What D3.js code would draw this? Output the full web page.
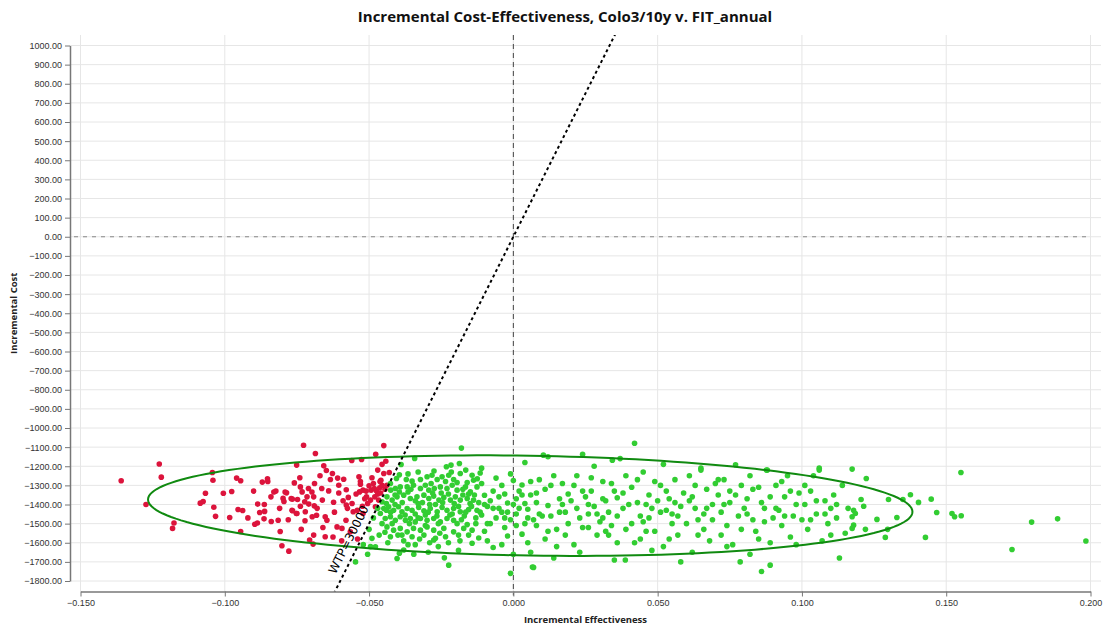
<!DOCTYPE html>
<html>
<head>
<meta charset="utf-8">
<script src="https://cdn.jsdelivr.net/npm/d3@7"></script>
<style>
  html, body { margin: 0; padding: 0; background: #fff; }
  svg { display: block; }
</style>
</head>
<body>
<svg id="chart" width="1110" height="630"></svg>
<script>
// ---------------- data ----------------
const chartTitle = "Incremental Cost-Effectiveness, Colo3/10y v. FIT_annual";
const xLabel = "Incremental Effectiveness";
const yLabel = "Incremental Cost";
const xTicks = [-0.15, -0.10, -0.05, 0.00, 0.05, 0.10, 0.15, 0.20];
const yTicks = [-1800,-1700,-1600,-1500,-1400,-1300,-1200,-1100,-1000,-900,-800,-700,-600,-500,-400,-300,-200,-100,0,100,200,300,400,500,600,700,800,900,1000];
const wtp = 30000;
const wtpLabel = "WTP=30000";
// confidence ellipse: centre and two conjugate semi-axis vectors (eff, cost)
const ellipseCenter = [0.00585, -1406];
const ellipseAxisA = [0.13245, -32];
const ellipseAxisB = [0, 261];

// simulations: [incremental effectiveness, incremental cost]
const sims = [
// left / red region
[-0.1359,-1276],[-0.1227,-1188],[-0.1220,-1257],[-0.1273,-1400],[-0.1176,-1497],[-0.1181,-1525],
[-0.1043,-1233],[-0.1041,-1273],[-0.1067,-1341],[-0.1085,-1393],[-0.1075,-1384],[-0.1038,-1414],
[-0.1032,-1462],[-0.1005,-1341],[-0.0976,-1332],[-0.0983,-1468],[-0.0959,-1262],[-0.0945,-1276],
[-0.0954,-1426],[-0.0938,-1431],[-0.0945,-1541],[-0.0886,-1398],[-0.0879,-1442],[-0.0896,-1503],
[-0.0887,-1497],[-0.0870,-1283],[-0.0863,-1400],[-0.0862,-1436],[-0.0864,-1475],[-0.0852,-1266],
[-0.0851,-1280],[-0.0839,-1489],[-0.0830,-1335],[-0.0823,-1330],[-0.0815,-1482],[-0.0808,-1541],
[-0.0802,-1616],[-0.0778,-1644],[-0.0798,-1368],[-0.0795,-1384],[-0.0786,-1339],[-0.0767,-1430],
[-0.0759,-1287],[-0.0766,-1372],[-0.0751,-1194],[-0.0750,-1447],[-0.0727,-1090],[-0.0686,-1133],
[-0.0657,-1198],[-0.0648,-1222],[-0.0627,-1238],[-0.0634,-1269],[-0.0609,-1262],[-0.0560,-1170],
[-0.0526,-1165],[-0.0477,-1137],[-0.0449,-1092],[-0.0442,-1174],[-0.0791,-1335],[-0.0770,-1369],
[-0.0738,-1308],[-0.0732,-1334],[-0.0710,-1316],[-0.0698,-1335],[-0.0748,-1374],[-0.0723,-1386],
[-0.0709,-1398],[-0.0664,-1316],[-0.0640,-1329],[-0.0662,-1377],[-0.0652,-1464],[-0.0623,-1388],
[-0.0605,-1299],[-0.0588,-1268],[-0.0579,-1323],[-0.0572,-1363],[-0.0579,-1403],[-0.0559,-1395],
[-0.0555,-1438],[-0.0535,-1255],[-0.0530,-1294],[-0.0521,-1325],[-0.0533,-1334],[-0.0509,-1360],
[-0.0500,-1302],[-0.0493,-1325],[-0.0482,-1316],[-0.0474,-1330],[-0.0463,-1313],[-0.0459,-1273],
[-0.0449,-1238],[-0.0430,-1233],[-0.0438,-1299],[-0.0467,-1377],[-0.0495,-1377],[-0.0478,-1412],
[-0.0523,-1409],[-0.0521,-1447],[-0.0541,-1430],[-0.0689,-1290],[-0.0692,-1360],[-0.0690,-1407],
[-0.0697,-1464],[-0.0721,-1438],[-0.0752,-1447],[-0.0738,-1409],[-0.0765,-1433],[-0.0722,-1485],
[-0.0682,-1456],[-0.0646,-1482],[-0.0652,-1569],[-0.0611,-1517],[-0.0594,-1525],[-0.0580,-1482],
[-0.0565,-1543],[-0.0692,-1560],[-0.0706,-1586],[-0.0694,-1607],[-0.0455,-1300],[-0.0470,-1345],
[-0.0485,-1290],[-0.0510,-1330],[-0.0462,-1280],[-0.0445,-1320],
[-0.046,-1340],[-0.048,-1360],[-0.0505,-1395],[-0.0515,-1370],[-0.049,-1260],[-0.047,-1220],
[-0.0455,-1190],[-0.053,-1280],[-0.0545,-1345],[-0.0575,-1420],[-0.059,-1380],[-0.062,-1440],
[-0.0605,-1340],[-0.067,-1250],[-0.068,-1420],[-0.0715,-1360],[-0.074,-1260],[-0.078,-1480],
[-0.081,-1420],[-0.084,-1360],[-0.090,-1330],[-0.092,-1470],[-0.0735,-1530],[-0.066,-1520],
[-0.0595,-1590],[-0.0625,-1570],
// dense centre
[-0.0180,-1105],[-0.0342,-1159],[-0.0389,-1191],[-0.0232,-1203],[-0.0216,-1194],[-0.0187,-1186],
[-0.0405,-1264],[-0.0371,-1269],[-0.0351,-1278],[-0.0322,-1269],[-0.0299,-1255],[-0.0282,-1247],
[-0.0264,-1269],[-0.0247,-1255],[-0.0224,-1247],[-0.0207,-1269],[-0.0184,-1238],[-0.0143,-1247],
[-0.0138,-1273],[-0.0426,-1290],[-0.0409,-1316],[-0.0392,-1308],[-0.0368,-1308],[-0.0346,-1299],
[-0.0322,-1316],[-0.0305,-1299],[-0.0293,-1325],[-0.0274,-1316],[-0.0253,-1308],[-0.0230,-1316],
[-0.0212,-1299],[-0.0195,-1325],[-0.0166,-1308],[-0.0149,-1334],[-0.0126,-1308],[-0.0438,-1360],
[-0.0420,-1377],[-0.0403,-1360],[-0.0380,-1351],[-0.0357,-1369],[-0.0334,-1360],[-0.0310,-1351],
[-0.0293,-1369],[-0.0276,-1356],[-0.0258,-1377],[-0.0241,-1363],[-0.0218,-1377],[-0.0201,-1360],
[-0.0184,-1377],[-0.0160,-1369],[-0.0138,-1377],[-0.0455,-1386],[-0.0449,-1421],[-0.0432,-1412],
[-0.0415,-1430],[-0.0398,-1412],[-0.0386,-1438],[-0.0368,-1421],[-0.0351,-1430],[-0.0328,-1415],
[-0.0310,-1433],[-0.0288,-1421],[-0.0264,-1438],[-0.0247,-1415],[-0.0230,-1430],[-0.0207,-1421],
[-0.0184,-1438],[-0.0155,-1426],[-0.0126,-1430],[-0.0461,-1447],[-0.0444,-1473],[-0.0426,-1464],
[-0.0409,-1482],[-0.0392,-1464],[-0.0374,-1482],[-0.0357,-1473],[-0.0340,-1491],[-0.0322,-1473],
[-0.0299,-1482],[-0.0276,-1473],[-0.0253,-1491],[-0.0230,-1473],[-0.0207,-1482],[-0.0172,-1525],
[-0.0143,-1534],[-0.0438,-1517],[-0.0415,-1534],[-0.0392,-1525],[-0.0368,-1543],[-0.0346,-1525],
[-0.0322,-1534],[-0.0299,-1517],[-0.0276,-1534],[-0.0241,-1525],[-0.0207,-1543],[-0.0426,-1569],
[-0.0386,-1560],[-0.0351,-1569],[-0.0310,-1560],[-0.0270,-1577],[-0.0235,-1569],[-0.0490,-1577],
[-0.0478,-1621],[-0.0380,-1638],[-0.0276,-1586],[-0.0403,-1682],[-0.0547,-1700],[-0.0239,-1679],
[-0.0224,-1717],[-0.0143,-1603],[-0.0170,-1460],[-0.0195,-1500],[-0.0160,-1285],[-0.0330,-1395],
[-0.0270,-1400],[-0.0212,-1450],[-0.0365,-1335],[-0.0250,-1340],[-0.0340,-1450],[-0.0285,-1290],
[-0.0175,-1350],[-0.0420,-1500],[-0.0305,-1510],[-0.0380,-1590],[-0.0260,-1620],[-0.0340,-1610],
[-0.0445,-1545],[-0.0190,-1560],[-0.0130,-1470],[-0.0150,-1395],[-0.0410,-1400],[-0.0295,-1440],
[-0.044,-1395],[-0.0425,-1440],[-0.041,-1350],[-0.0395,-1335],[-0.0385,-1390],[-0.0375,-1455],
[-0.036,-1500],[-0.0355,-1320],[-0.034,-1380],[-0.033,-1470],[-0.0315,-1390],[-0.0305,-1455],
[-0.029,-1400],[-0.028,-1340],[-0.0265,-1460],[-0.026,-1500],[-0.0245,-1390],[-0.0235,-1280],
[-0.0225,-1345],[-0.022,-1455],[-0.0205,-1395],[-0.0195,-1285],[-0.019,-1410],[-0.018,-1480],
[-0.0175,-1320],[-0.0165,-1440],[-0.016,-1505],[-0.0155,-1345],[-0.0145,-1410],[-0.0135,-1350],
[-0.013,-1500],[-0.0125,-1265],[-0.012,-1390],[-0.0115,-1440],[-0.0425,-1325],[-0.0395,-1245],
[-0.0365,-1240],[-0.033,-1230],[-0.0275,-1225],[-0.0215,-1230],[-0.0165,-1220],[-0.0115,-1235],
[-0.0435,-1600],[-0.040,-1560],[-0.0365,-1610],[-0.0325,-1580],[-0.029,-1600],[-0.0255,-1550],
[-0.0225,-1600],[-0.0185,-1590],[-0.0155,-1560],[-0.012,-1575],[-0.0395,-1655],[-0.0345,-1660],
[-0.0295,-1650],[-0.019,-1640],[-0.0455,-1500],[-0.0440,-1430],[-0.047,-1420],[-0.0485,-1470],
[-0.050,-1530],[-0.0465,-1560],[-0.0495,-1620],[-0.052,-1610],[-0.054,-1580],[-0.0505,-1660],
// right part
[-0.011,-1290],[-0.010,-1352],[-0.009,-1410],[-0.011,-1455],[-0.008,-1500],[-0.010,-1540],[-0.007,-1330],
[-0.006,-1262],[-0.009,-1590],[-0.006,-1470],[-0.008,-1380],[-0.005,-1420],[-0.011,-1210],[-0.007,-1625],
[-0.004,-1300],[-0.003,-1345],[-0.002,-1392],[-0.004,-1440],[-0.001,-1480],[-0.003,-1520],[0.000,-1275],
[0.001,-1370],[-0.002,-1565],[0.001,-1450],[-0.004,-1610],[0.002,-1330],[-0.001,-1240],[0.000,-1660],
[-0.001,-1760],[0.003,-1298],[0.004,-1395],[0.005,-1425],[0.006,-1350],[0.007,-1480],[0.008,-1510],
[0.003,-1555],[0.009,-1270],[0.005,-1600],[0.007,-1729],[0.008,-1390],[0.004,-1180],[0.009,-1450],
[0.006,-1650],[0.011,-1320],[0.012,-1405],[0.013,-1460],[0.014,-1250],[0.015,-1530],[0.016,-1370],
[0.017,-1290],[0.018,-1440],[0.011,-1580],[0.019,-1500],[0.012,-1150],[0.015,-1620],[0.017,-1400],
[0.019,-1345],[0.014,-1680],[0.021,-1300],[0.022,-1420],[0.023,-1470],[0.024,-1137],[0.025,-1360],
[0.026,-1520],[0.027,-1260],[0.028,-1410],[0.029,-1560],[0.021,-1610],[0.024,-1330],[0.026,-1450],
[0.028,-1200],[0.030,-1490],[0.023,-1650],[0.031,-1280],[0.032,-1380],[0.033,-1440],[0.034,-1510],
[0.035,-1330],[0.036,-1600],[0.037,-1160],[0.038,-1420],[0.039,-1250],[0.031,-1470],[0.033,-1560],
[0.036,-1365],[0.039,-1530],[0.035,-1690],[0.042,-1080],[0.041,-1310],[0.043,-1390],[0.044,-1460],
[0.045,-1230],[0.046,-1540],[0.047,-1350],[0.048,-1420],[0.049,-1280],[0.042,-1600],[0.045,-1490],
[0.048,-1640],[0.050,-1380],[0.051,-1300],[0.052,-1190],[0.053,-1430],[0.054,-1370],[0.055,-1500],
[0.056,-1270],[0.057,-1560],[0.058,-1410],[0.059,-1340],[0.052,-1620],[0.055,-1450],[0.058,-1700],
[0.061,-1250],[0.062,-1360],[0.063,-1420],[0.064,-1480],[0.065,-1210],[0.066,-1530],[0.067,-1320],
[0.068,-1590],[0.069,-1400],[0.062,-1650],[0.066,-1450],[0.070,-1290],[0.071,-1350],[0.072,-1440],
[0.073,-1270],[0.074,-1510],[0.075,-1390],[0.076,-1610],[0.077,-1192],[0.078,-1460],[0.079,-1300],
[0.072,-1560],[0.075,-1330],[0.080,-1420],[0.081,-1370],[0.082,-1250],[0.083,-1480],[0.084,-1540],
[0.085,-1310],[0.086,-1750],[0.087,-1420],[0.088,-1220],[0.089,-1600],[0.082,-1660],[0.086,-1390],
[0.090,-1470],[0.091,-1300],[0.092,-1430],[0.093,-1510],[0.094,-1360],[0.095,-1250],[0.096,-1570],
[0.097,-1460],[0.098,-1610],[0.099,-1340],[0.093,-1280],[0.100,-1480],[0.101,-1400],[0.102,-1530],
[0.103,-1330],[0.104,-1250],[0.105,-1450],[0.106,-1220],[0.107,-1590],[0.108,-1380],[0.109,-1500],
[0.110,-1420],[0.111,-1350],[0.112,-1470],[0.113,-1680],[0.114,-1300],[0.115,-1550],[0.116,-1420],
[0.0104,-1142],[0.0343,-1168],[0.065,-1220],[0.0877,-1220],[0.106,-1210],[0.0388,-1690],[0.0786,-1700],
[0.089,-1717],[0.0066,-1727],
[0.002,-1420],[0.004,-1500],[0.006,-1280],[0.008,-1340],[0.010,-1460],[0.012,-1540],[0.013,-1300],
[0.016,-1440],[0.018,-1560],[0.020,-1380],[0.022,-1250],[0.024,-1520],[0.026,-1400],[0.027,-1330],
[0.029,-1450],[0.031,-1370],[0.032,-1540],[0.034,-1290],[0.036,-1460],[0.038,-1340],[0.040,-1400],
[0.041,-1500],[0.043,-1270],[0.044,-1580],[0.046,-1400],[0.047,-1470],[0.049,-1540],[0.051,-1440],
[0.053,-1330],[0.054,-1580],[0.056,-1390],[0.057,-1460],[0.060,-1500],[0.061,-1380],[0.063,-1300],
[0.064,-1560],[0.067,-1420],[0.069,-1480],[0.071,-1270],[0.073,-1400],[0.074,-1620],[0.077,-1350],
[0.079,-1530],[0.081,-1450],[0.083,-1320],[0.085,-1580],[0.087,-1490],[0.089,-1360],[0.091,-1420],
[0.094,-1460],[0.096,-1330],[0.098,-1400],[0.101,-1300],[0.103,-1480],[0.105,-1380],[0.108,-1450],
[0.110,-1560],[0.112,-1400],[-0.005,-1360],[-0.002,-1440],[0.001,-1510],[-0.007,-1420],[-0.009,-1500],
[-0.010,-1400],[0.003,-1350],[0.000,-1400],[-0.003,-1470],[0.005,-1470],
// far right
[0.1174,-1215],[0.1223,-1264],[0.1205,-1374],[0.1214,-1409],[0.1179,-1430],[0.1185,-1447],[0.1174,-1464],
[0.1179,-1508],[0.1174,-1525],[0.1220,-1530],[0.1260,-1478],[0.1289,-1572],[0.1297,-1530],[0.1300,-1374],
[0.1329,-1468],[0.1350,-1374],[0.1376,-1349],[0.1404,-1389],[0.1428,-1572],[0.1448,-1372],[0.1467,-1442],
[0.1520,-1447],[0.1529,-1464],[0.1552,-1459],[0.1551,-1233],[0.1728,-1635],[0.1796,-1492],[0.1886,-1475],
[0.1984,-1591]
];

// ---------------- layout ----------------
const svg = d3.select("#chart");
const plot = { left: 70, right: 1101, top: 35, bottom: 591.5 };
const pad = 10.5;

const x = d3.scaleLinear().domain([-0.15, 0.20]).range([plot.left + pad, plot.right - pad]);
const y = d3.scaleLinear().domain([-1800, 1000]).range([plot.bottom - pad, plot.top + pad]);

svg.append("defs").append("clipPath").attr("id", "clip")
  .append("rect").attr("x", plot.left).attr("y", plot.top)
  .attr("width", plot.right - plot.left).attr("height", plot.bottom - plot.top);

// grid
const grid = svg.append("g");
grid.selectAll("line.h").data(yTicks).join("line")
  .attr("x1", plot.left).attr("x2", plot.right)
  .attr("y1", d => y(d)).attr("y2", d => y(d))
  .attr("stroke", "#e6e6e6").attr("stroke-width", 1);
grid.selectAll("line.v").data(xTicks).join("line")
  .attr("y1", plot.top).attr("y2", plot.bottom)
  .attr("x1", d => x(d)).attr("x2", d => x(d))
  .attr("stroke", "#e6e6e6").attr("stroke-width", 1);

// zero reference lines
svg.append("line")
  .attr("x1", plot.left + 4).attr("x2", x(0.20))
  .attr("y1", y(0)).attr("y2", y(0))
  .attr("stroke", "#888").attr("stroke-width", 1).attr("stroke-dasharray", "4,5");
svg.append("line")
  .attr("x1", x(0)).attr("x2", x(0))
  .attr("y1", plot.top).attr("y2", plot.bottom + 4)
  .attr("stroke", "#444").attr("stroke-width", 1).attr("stroke-dasharray", "5,4");

const clipped = svg.append("g").attr("clip-path", "url(#clip)");

// points
clipped.append("g").selectAll("circle").data(sims).join("circle")
  .attr("cx", d => x(d[0])).attr("cy", d => y(d[1])).attr("r", 2.8)
  .attr("fill", d => (d[1] > wtp * d[0]) ? "#dc143c" : "#32cd32");

// ellipse
const ellipsePts = d3.range(0, 361, 2).map(a => {
  const t = a * Math.PI / 180;
  return [ellipseCenter[0] + ellipseAxisA[0] * Math.cos(t) + ellipseAxisB[0] * Math.sin(t),
          ellipseCenter[1] + ellipseAxisA[1] * Math.cos(t) + ellipseAxisB[1] * Math.sin(t)];
});
clipped.append("path")
  .attr("d", d3.line().x(d => x(d[0])).y(d => y(d[1])).curve(d3.curveLinearClosed)(ellipsePts))
  .attr("fill", "none").attr("stroke", "#108a10").attr("stroke-width", 2);

// WTP line
const wx0 = -0.15, wx1 = 0.20;
clipped.append("line")
  .attr("x1", x(wx0)).attr("y1", y(wtp * wx0))
  .attr("x2", x(wx1)).attr("y2", y(wtp * wx1))
  .attr("stroke", "#000").attr("stroke-width", 2).attr("stroke-dasharray", "3,3");

// WTP label
const lblCost = -1610;
const lblEff = lblCost / wtp;
const ang = Math.atan2(y(wtp * 0.01) - y(0), x(0.01) - x(0)) * 180 / Math.PI;
svg.append("text")
  .attr("transform", `translate(${x(lblEff)},${y(lblCost)}) rotate(${ang}) translate(0,-7)`)
  .attr("text-anchor", "middle")
  .attr("font-family", "DejaVu Sans, sans-serif").attr("font-size", 12)
  .attr("fill", "#000").text(wtpLabel);

// axes
const fmtY = d3.format(".2f"), fmtX = d3.format(".3f");
const yAxis = svg.append("g").attr("transform", `translate(${plot.left},0)`)
  .call(d3.axisLeft(y).tickValues(yTicks).tickFormat(fmtY).tickSize(5).tickSizeOuter(0).tickPadding(3));
const xAxis = svg.append("g").attr("transform", `translate(0,${plot.bottom})`)
  .call(d3.axisBottom(x).tickValues(xTicks).tickFormat(fmtX).tickSize(5).tickSizeOuter(0).tickPadding(3));
[yAxis, xAxis].forEach(g => {
  g.select(".domain").attr("stroke", "#777").attr("stroke-width", 1.5);
  g.selectAll(".tick line").attr("stroke", "#777");
  g.selectAll(".tick text").attr("fill", "#333")
    .attr("font-family", "Liberation Sans, Arial, sans-serif").attr("font-size", 9);
});

// titles
svg.append("text").attr("x", 565).attr("y", 22).attr("text-anchor", "middle")
  .attr("font-family", "Open Sans, sans-serif").attr("font-weight", "bold").attr("font-size", 15)
  .attr("fill", "#111").text(chartTitle);
svg.append("text").attr("x", (plot.left + plot.right) / 2).attr("y", 623).attr("text-anchor", "middle")
  .attr("font-family", "Open Sans, sans-serif").attr("font-weight", "bold").attr("font-size", 9.5)
  .attr("fill", "#222").text(xLabel);
svg.append("text").attr("transform", `translate(17,${(plot.top + plot.bottom) / 2}) rotate(-90)`)
  .attr("text-anchor", "middle")
  .attr("font-family", "Open Sans, sans-serif").attr("font-weight", "bold").attr("font-size", 9.5)
  .attr("fill", "#222").text(yLabel);
</script>
</body>
</html>
